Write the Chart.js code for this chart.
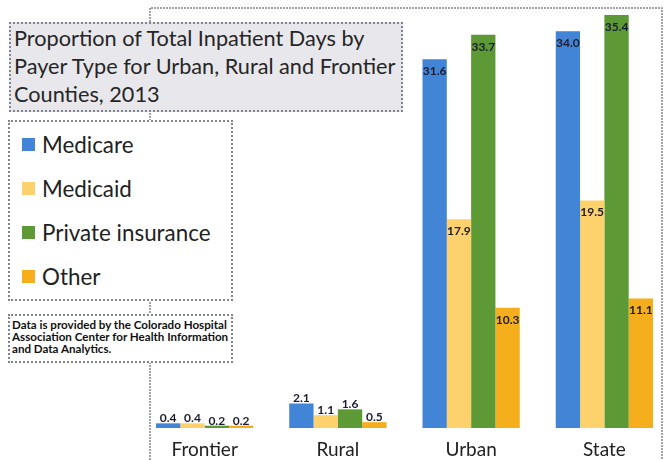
<!DOCTYPE html>
<html>
<head>
<meta charset="utf-8">
<script src="https://cdn.jsdelivr.net/npm/chart.js@4.4.1/dist/chart.umd.min.js"></script>
<style>
    html, body { margin: 0; padding: 0; background: #fff; overflow: hidden; }
    body { width: 665px; height: 460px; position: relative; font-family: 'Lato', 'Liberation Sans', sans-serif; }
    #wrap { position: absolute; left: 0; top: 0; width: 672px; height: 460px; }
    .box { position: absolute; border: 2px dotted #808391; box-sizing: border-box; }
    #title { left: 9px; top: 22px; width: 394px; height: 90px; background: #e8e8ec; color: #262626;
        font-size: 21.7px; line-height: 28px; padding: 0 0 0 3px; white-space: nowrap; }
    #legend { left: 8px; top: 120px; width: 225px; height: 181px; background: #fff; padding: 0 0 0 12px; }
    #legend .item { display: flex; align-items: center; height: 44px; font-size: 22.4px; color: #222; white-space: nowrap; }
    #legend .sw { width: 13px; height: 13px; margin-right: 7px; }
    #note { left: 8px; top: 314px; width: 225px; height: 49px; background: #fff; font-size: 11.6px; font-weight: bold;
        line-height: 12px; color: #111; padding: 3px 0 0 2px; white-space: nowrap; }
</style>
</head>
<body>
<div id="wrap"><canvas id="chart"></canvas></div>
<div class="box" id="title">Proportion of Total Inpatient Days by<br>Payer Type for Urban, Rural and Frontier<br>Counties, 2013</div>
<div class="box" id="legend"></div>
<div class="box" id="note">Data is provided by the Colorado Hospital<br>Association Center for Health Information<br>and Data Analytics.</div>
<script>
document.addEventListener('DOMContentLoaded', () => {
    // Chart data
    const categories = ['Frontier', 'Rural', 'Urban', 'State'];
    const medicare = [0.4, 2.1, 31.6, 34.0];
    const medicaid = [0.4, 1.1, 17.9, 19.5];
    const privateIns = [0.2, 1.6, 33.7, 35.4];
    const other = [0.2, 0.5, 10.3, 11.1];

    const seriesNames = ['Medicare', 'Medicaid', 'Private insurance', 'Other'];
    const seriesColors = ['#4284d6', '#fdd16c', '#5d9a36', '#f5ae1c'];
    const seriesData = [medicare, medicaid, privateIns, other];

    // Dotted frame around the plot
    const framePlugin = {
        id: 'frame',
        beforeDraw(chart) {
            const { ctx, chartArea } = chart;
            const left = chartArea.left + 12;
            const right = 662;
            ctx.save();
            ctx.strokeStyle = '#85878f';
            ctx.lineWidth = 1.5;
            ctx.setLineDash([2, 1]);
            ctx.beginPath();
            ctx.moveTo(left, 460);
            ctx.lineTo(left, chartArea.top);
            ctx.lineTo(right, chartArea.top);
            ctx.lineTo(right, 460);
            ctx.stroke();
            ctx.restore();
        }
    };

    // Value labels: inside the top for tall bars, above for short ones
    const valueLabels = {
        id: 'valueLabels',
        afterDatasetsDraw(chart) {
            const { ctx } = chart;
            ctx.save();
            ctx.font = 'bold 12px Lato, sans-serif';
            ctx.fillStyle = '#1c1c30';
            ctx.textAlign = 'center';
            ctx.textBaseline = 'middle';
            chart.data.datasets.forEach((ds, i) => {
                chart.getDatasetMeta(i).data.forEach((bar, j) => {
                    const v = ds.data[j];
                    const y = v > 5 ? bar.y + 12 : bar.y - 5;
                    ctx.fillText(v.toFixed(1), bar.x, y);
                });
            });
            ctx.restore();
        }
    };

    const ctx = document.getElementById('chart').getContext('2d');
    const chart = new Chart(ctx, {
        type: 'bar',
        data: {
            labels: categories,
            datasets: seriesNames.map((name, i) => ({
                label: name,
                data: seriesData[i],
                backgroundColor: seriesColors[i],
                borderWidth: 0,
                barPercentage: 1,
                categoryPercentage: 0.73
            }))
        },
        options: {
            responsive: true,
            maintainAspectRatio: false,
            animation: false,
            layout: { padding: { left: 138, right: 1, top: 8, bottom: 0 } },
            plugins: { legend: { display: false }, tooltip: { enabled: false } },
            scales: {
                x: {
                    grid: { display: false, drawTicks: false },
                    border: { display: false },
                    ticks: { color: '#222', padding: 10, font: { family: 'Lato', size: 19 } },
                    afterFit: scale => { scale.height = 32; }
                },
                y: {
                    display: false,
                    min: 0,
                    max: 36
                }
            }
        },
        plugins: [framePlugin, valueLabels]
    });

    // HTML legend built from the datasets
    const legend = document.getElementById('legend');
    chart.data.datasets.forEach(ds => {
        const item = document.createElement('div');
        item.className = 'item';
        item.innerHTML = `<span class="sw" style="background:${ds.backgroundColor}"></span>${ds.label}`;
        legend.appendChild(item);
    });
});
</script>
</body>
</html>
